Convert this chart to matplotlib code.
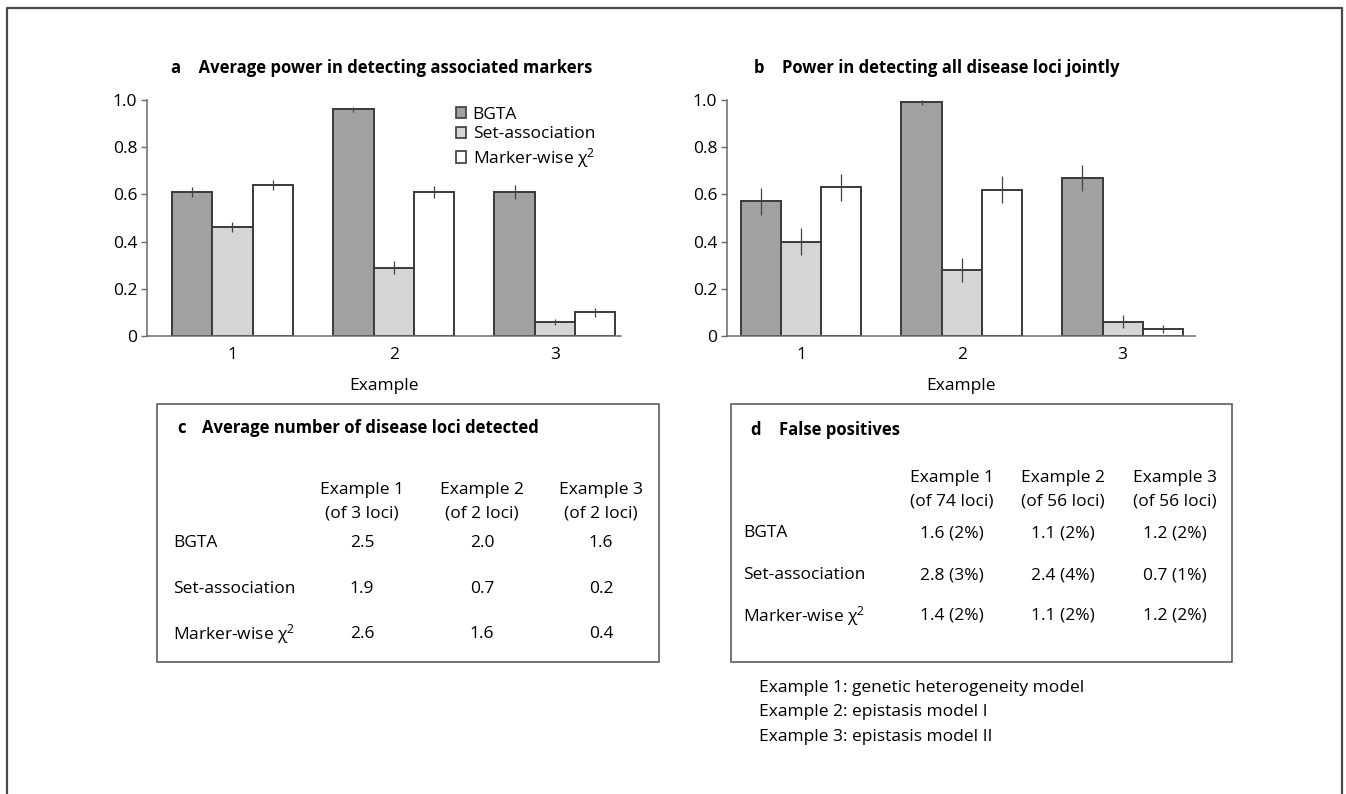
import matplotlib
matplotlib.use("Agg")
import matplotlib.pyplot as plt
from matplotlib.patches import Rectangle
import numpy as np

plt.rcParams['font.family'] = ['Open Sans', 'DejaVu Sans']
plt.rcParams['mathtext.fontset'] = 'custom'
plt.rcParams['mathtext.rm'] = 'Open Sans'
plt.rcParams['mathtext.it'] = 'Open Sans'
plt.rcParams['mathtext.bf'] = 'Open Sans:bold'

W, H = 1346, 794

# ---- data ----
examples = ["1", "2", "3"]
methods = ["BGTA", "Set-association", "Marker-wise χ$^{2}$"]

power_markers = {
    "BGTA": [0.61, 0.96, 0.61],
    "Set-association": [0.46, 0.29, 0.06],
    "Marker-wise χ$^{2}$": [0.64, 0.61, 0.10],
}
power_markers_err = {
    "BGTA": [0.021, 0.010, 0.028],
    "Set-association": [0.021, 0.027, 0.013],
    "Marker-wise χ$^{2}$": [0.023, 0.026, 0.018],
}
power_joint = {
    "BGTA": [0.57, 0.99, 0.67],
    "Set-association": [0.40, 0.28, 0.06],
    "Marker-wise χ$^{2}$": [0.63, 0.62, 0.03],
}
power_joint_err = {
    "BGTA": [0.058, 0.010, 0.055],
    "Set-association": [0.056, 0.052, 0.027],
    "Marker-wise χ$^{2}$": [0.056, 0.056, 0.018],
}
yticks = [0, 0.2, 0.4, 0.6, 0.8, 1.0]
ytick_labels = ["0", "0.2", "0.4", "0.6", "0.8", "1.0"]

loci_headers = [("Example 1", "(of 3 loci)"), ("Example 2", "(of 2 loci)"), ("Example 3", "(of 2 loci)")]
loci_detected = {
    "BGTA": ["2.5", "2.0", "1.6"],
    "Set-association": ["1.9", "0.7", "0.2"],
    "Marker-wise χ$^{2}$": ["2.6", "1.6", "0.4"],
}
fp_headers = [("Example 1", "(of 74 loci)"), ("Example 2", "(of 56 loci)"), ("Example 3", "(of 56 loci)")]
false_pos = {
    "BGTA": ["1.6 (2%)", "1.1 (2%)", "1.2 (2%)"],
    "Set-association": ["2.8 (3%)", "2.4 (4%)", "0.7 (1%)"],
    "Marker-wise χ$^{2}$": ["1.4 (2%)", "1.1 (2%)", "1.2 (2%)"],
}
notes = [
    "Example 1: genetic heterogeneity model",
    "Example 2: epistasis model I",
    "Example 3: epistasis model II",
]

colors = {"BGTA": "#a0a1a3", "Set-association": "#d4d5d7", "Marker-wise χ$^{2}$": "#ffffff"}
edge = "#3a3a3a"
axis_col = "#6a6a6a"
FS = 12.5

fig = plt.figure(figsize=(W / 100, H / 100), dpi=100)


def fx(x):
    return x / W


def fy(y):
    return 1 - y / H


def ax_at(left, top, right, bottom):
    return fig.add_axes([fx(left), fy(bottom), (right - left) / W, (bottom - top) / H])


def bar_panel(ax, values, errs, xlim):
    x = np.arange(1, len(examples) + 1)
    bw = 0.25
    for i, m in enumerate(methods):
        pos = x + (i - 1) * bw
        ax.bar(pos, values[m], width=bw, color=colors[m], edgecolor=edge,
               linewidth=1.4, label=m, zorder=2)
        ax.errorbar(pos, values[m], yerr=errs[m], fmt="none", ecolor="#444444",
                    elinewidth=0.9, capsize=0, zorder=3, clip_on=False)
    ax.set_xlim(*xlim)
    ax.set_ylim(0, 1.0)
    ax.set_yticks(yticks)
    ax.set_yticklabels(ytick_labels, fontsize=FS)
    ax.set_xticks(x)
    ax.set_xticklabels(examples, fontsize=FS)
    ax.tick_params(axis="x", length=0, pad=8)
    ax.tick_params(axis="y", length=4, width=1, color=axis_col, pad=3)
    for s in ["top", "right"]:
        ax.spines[s].set_visible(False)
    for s in ["left", "bottom"]:
        ax.spines[s].set_color(axis_col)
        ax.spines[s].set_linewidth(1.1)
    ax.set_xlabel("Example", fontsize=FS, labelpad=11)
    ax.patch.set_alpha(0)


ax_a = ax_at(147, 100, 621, 336)
bar_panel(ax_a, power_markers, power_markers_err, (0.47, 3.41))
fig.text(fx(382), fy(68), "a    Average power in detecting associated markers",
         ha="center", va="center", fontsize=12, fontweight="bold")
leg = ax_a.legend(loc="upper left", bbox_to_anchor=((449 - 147) / 474, 1.0),
                  frameon=False, fontsize=FS, handlelength=0.58, handleheight=0.62,
                  handletextpad=0.38, labelspacing=0.2, borderaxespad=0)
for h in leg.legend_handles:
    h.set_linewidth(1.2)

ax_b = ax_at(727, 100, 1195, 336)
bar_panel(ax_b, power_joint, power_joint_err, (0.54, 3.45))
fig.text(fx(937), fy(68), "b    Power in detecting all disease loci jointly",
         ha="center", va="center", fontsize=12, fontweight="bold")


def table_box(left, top, right, bottom, letter, title, title_x, title_y, letter_x,
              headers, header_xs, header_ys, rows, row_ys, label_x):
    fig.patches.append(Rectangle((fx(left), fy(bottom)), (right - left) / W,
                                 (bottom - top) / H, transform=fig.transFigure,
                                 fill=False, edgecolor="#6a6a6a", linewidth=1.3))
    fig.text(fx(letter_x), fy(title_y), letter, ha="left", va="center",
             fontsize=12, fontweight="bold")
    fig.text(fx(title_x), fy(title_y), title, ha="left", va="center",
             fontsize=12, fontweight="bold")
    for (h1, h2), hx in zip(headers, header_xs):
        fig.text(fx(hx), fy(header_ys[0]), h1, ha="center", va="center", fontsize=FS)
        fig.text(fx(hx), fy(header_ys[1]), h2, ha="center", va="center", fontsize=FS)
    for m, ry in zip(methods, row_ys):
        fig.text(fx(label_x), fy(ry), m, ha="left", va="center", fontsize=FS)
        for v, hx in zip(rows[m], header_xs):
            fig.text(fx(hx), fy(ry), v, ha="center", va="center", fontsize=FS)


table_box(157, 404, 659, 662, "c", "Average number of disease loci detected", 202, 428, 177,
          loci_headers, [362, 482, 601], [490, 514], loci_detected, [543, 589, 634], 173)
table_box(731, 404, 1232, 662, "d", "False positives", 779, 430, 750,
          fp_headers, [952, 1063, 1175], [478, 502], false_pos, [533, 575, 616], 743)

for i, note in enumerate(notes):
    fig.text(fx(759), fy(688 + 24.5 * i), note, ha="left", va="center", fontsize=FS)

# outer frame (open at the bottom edge)
fig.add_artist(plt.Line2D([fx(7), fx(7), fx(1342), fx(1342)],
                          [0, fy(8), fy(8), 0], transform=fig.transFigure,
                          color="#4a4a4a", linewidth=1.6))

fig.savefig("out.png", dpi=100)
